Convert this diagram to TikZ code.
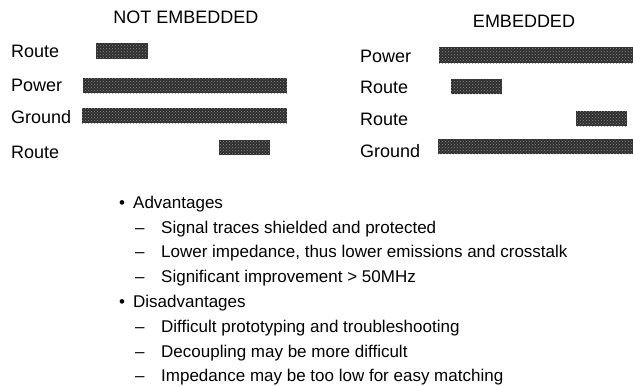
\documentclass[tikz,border=0pt]{standalone}
\usepackage{fontspec}
\setmainfont{Liberation Sans}
\usetikzlibrary{patterns}
\begin{document}
\begin{tikzpicture}[x=1pt,y=-1pt,
  head/.style={font=\fontsize{18}{20}\selectfont, anchor=base, inner sep=0pt},
  lbl/.style={font=\fontsize{18}{20}\selectfont, anchor=base west, inner sep=0pt},
  item/.style={font=\fontsize{17}{19}\selectfont, anchor=base west, inner sep=0pt},
  bar/.style={fill=black!82, postaction={pattern=crosshatch dots, pattern color=black!45}}]
\useasboundingbox (0,0) rectangle (633,386);
% headings
\node[head] (h1) at (186,23) {NOT EMBEDDED};
\node[head] (h2) at (524,27) {EMBEDDED};
% left labels
\node[lbl] (l1) at (11,57.5) {Route};
\node[lbl] (l2) at (11,91.5) {Power};
\node[lbl] (l3) at (11,123.5) {Ground};
\node[lbl] (l4) at (11,158) {Route};
% left bars
\path[bar] (96,43) rectangle (148,59);
\path[bar] (83,78) rectangle (287,93);
\path[bar] (82,108) rectangle (287,123);
\path[bar] (219,140) rectangle (270,155);
% right labels
\node[lbl] (r1) at (360,62) {Power};
\node[lbl] (r2) at (360,93) {Route};
\node[lbl] (r3) at (360,125) {Route};
\node[lbl] (r4) at (360,157) {Ground};
% right bars
\path[bar] (439,47) rectangle (633,63);
\path[bar] (451,79) rectangle (502,94);
\path[bar] (576,111) rectangle (627,126);
\path[bar] (438,139) rectangle (633,154);
% list
\node[item] (b1) at (119,208) {•};
\node[item] (a0) at (133,208) {Advantages};
\node[item] (d1) at (135,233) {–};
\node[item] (a1) at (161,233) {Signal traces shielded and protected};
\node[item] (d2) at (135,257) {–};
\node[item] (a2) at (161,257) {Lower impedance, thus lower emissions and crosstalk};
\node[item] (d3) at (135,282) {–};
\node[item] (a3) at (161,282) {Significant improvement > 50MHz};
\node[item] (b2) at (119,307) {•};
\node[item] (c0) at (133,307) {Disadvantages};
\node[item] (d4) at (135,332) {–};
\node[item] (c1) at (161,332) {Difficult prototyping and troubleshooting};
\node[item] (d5) at (135,357) {–};
\node[item] (c2) at (161,357) {Decoupling may be more difficult};
\node[item] (d6) at (135,381) {–};
\node[item] (c3) at (161,381) {Impedance may be too low for easy matching};
\end{tikzpicture}
\end{document}
